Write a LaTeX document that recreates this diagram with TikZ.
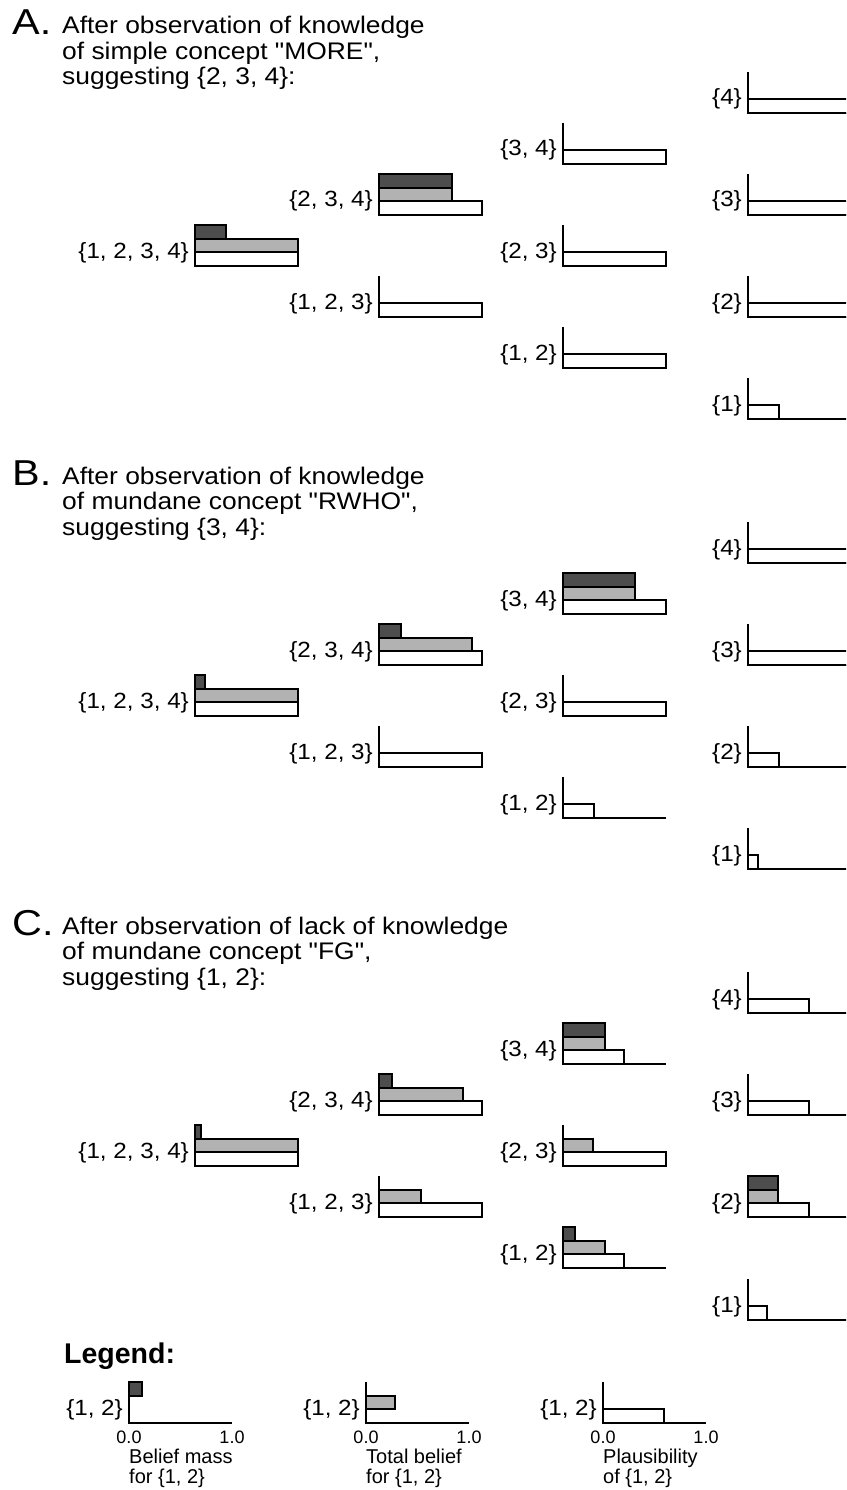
\documentclass[tikz,border=0pt]{standalone}
\usepackage{fontspec}
\setmainfont{Liberation Sans}
\newfontfamily\titlefont[FakeStretch=1.1]{Liberation Sans}
\newfontfamily\letterfont[FakeStretch=1.15]{Liberation Sans}
\newfontfamily\labelfont[FakeStretch=1.1]{Liberation Sans}
\definecolor{massgray}{RGB}{77,77,77}
\definecolor{beliefgray}{RGB}{178,178,178}

% #1 name, #2 x of axis, #3 y of baseline, #4 set, #5 mass, #6 belief, #7 plausibility
\newcommand{\belchart}[7]{%
  \draw[chartaxis] (#2,#3-41) -- (#2,#3) -- (#2+103,#3);
  \ifdim #7pt>0pt \draw[chartbar,fill=white] (#2,#3) rectangle (#2+#7*103,#3-13.67); \fi
  \ifdim #6pt>0pt \draw[chartbar,fill=beliefgray] (#2,#3-13.67) rectangle (#2+#6*103,#3-27.33); \fi
  \ifdim #5pt>0pt \draw[chartbar,fill=massgray] (#2,#3-27.33) rectangle (#2+#5*103,#3-41); \fi
  \node[setlabel] (#1) at (#2-6,#3-8) {#4};
}

\begin{document}
\begin{tikzpicture}[x=1pt,y=-1pt]
\tikzstyle{chartaxis}=[line width=1.5pt]
\tikzstyle{chartbar}=[draw=black,line width=2pt]
\tikzstyle{setlabel}=[anchor=base east,inner sep=0pt,font=\labelfont\fontsize{22}{24}\selectfont]
\tikzstyle{partletter}=[anchor=base west,inner sep=0pt,font=\letterfont\fontsize{36}{40}\selectfont]
\tikzstyle{parttitle}=[anchor=base west,inner sep=0pt,align=left,font=\titlefont\fontsize{24}{25.5}\selectfont]
\tikzstyle{tick}=[anchor=base,inner sep=0pt,font=\fontsize{18}{20}\selectfont]
\tikzstyle{caption}=[anchor=base west,inner sep=0pt,align=left,font=\fontsize{20}{20}\selectfont]
\useasboundingbox (0,0) rectangle (846,1490);
\clip (0,0) rectangle (846,1490);

% A
\node[partletter] (partA) at (12,35) {A.};
\node[parttitle] (titleA) at (62,85) {After observation of knowledge\\of simple concept "MORE",\\suggesting \{2, 3, 4\}:};
\belchart{a1234}{195}{266}{\{1, 2, 3, 4\}}{0.30}{1}{1}
\belchart{a234}{379}{215}{\{2, 3, 4\}}{0.71}{0.71}{1}
\belchart{a123}{379}{317}{\{1, 2, 3\}}{0}{0}{1}
\belchart{a34}{563}{164}{\{3, 4\}}{0}{0}{1}
\belchart{a23}{563}{266}{\{2, 3\}}{0}{0}{1}
\belchart{a12}{563}{368}{\{1, 2\}}{0}{0}{1}
\belchart{a4}{748}{113}{\{4\}}{0}{0}{1}
\belchart{a3}{748}{215}{\{3\}}{0}{0}{1}
\belchart{a2}{748}{317}{\{2\}}{0}{0}{1}
\belchart{a1}{748}{419}{\{1\}}{0}{0}{0.30}

% B
\node[partletter] (partB) at (12,485) {B.};
\node[parttitle] (titleB) at (62,535) {After observation of knowledge\\of mundane concept "RWHO",\\suggesting \{3, 4\}:};
\belchart{b1234}{195}{716}{\{1, 2, 3, 4\}}{0.10}{1}{1}
\belchart{b234}{379}{665}{\{2, 3, 4\}}{0.21}{0.90}{1}
\belchart{b123}{379}{767}{\{1, 2, 3\}}{0}{0}{1}
\belchart{b34}{563}{614}{\{3, 4\}}{0.70}{0.70}{1}
\belchart{b23}{563}{716}{\{2, 3\}}{0}{0}{1}
\belchart{b12}{563}{818}{\{1, 2\}}{0}{0}{0.30}
\belchart{b4}{748}{563}{\{4\}}{0}{0}{1}
\belchart{b3}{748}{665}{\{3\}}{0}{0}{1}
\belchart{b2}{748}{767}{\{2\}}{0}{0}{0.30}
\belchart{b1}{748}{869}{\{1\}}{0}{0}{0.10}

% C
\node[partletter] (partC) at (12,935) {C.};
\node[parttitle] (titleC) at (62,985) {After observation of lack of knowledge\\of mundane concept "FG",\\suggesting \{1, 2\}:};
\belchart{c1234}{195}{1166}{\{1, 2, 3, 4\}}{0.06}{1}{1}
\belchart{c234}{379}{1115}{\{2, 3, 4\}}{0.13}{0.82}{1}
\belchart{c123}{379}{1217}{\{1, 2, 3\}}{0}{0.41}{1}
\belchart{c34}{563}{1064}{\{3, 4\}}{0.41}{0.41}{0.59}
\belchart{c23}{563}{1166}{\{2, 3\}}{0}{0.29}{1}
\belchart{c12}{563}{1268}{\{1, 2\}}{0.12}{0.41}{0.59}
\belchart{c4}{748}{1013}{\{4\}}{0}{0}{0.59}
\belchart{c3}{748}{1115}{\{3\}}{0}{0}{0.59}
\belchart{c2}{748}{1217}{\{2\}}{0.29}{0.29}{0.59}
\belchart{c1}{748}{1320}{\{1\}}{0}{0}{0.18}

% legend
\node[anchor=base west,inner sep=0pt,font=\bfseries\fontsize{28.5}{30}\selectfont] (legend) at (64,1363) {Legend:};
\belchart{lgmass}{129}{1423}{\{1, 2\}}{0.13}{0}{0}
\belchart{lgbel}{366}{1423}{\{1, 2\}}{0}{0.28}{0}
\belchart{lgpl}{603}{1423}{\{1, 2\}}{0}{0}{0.59}
\foreach \x/\name/\cap in {129/mass/{Belief mass\\for \{1, 2\}},366/bel/{Total belief\\for \{1, 2\}},603/pl/{Plausibility\\of \{1, 2\}}}{
  \node[tick] (zero\name) at (\x,1443) {0.0};
  \node[tick] (one\name) at (\x+103,1443) {1.0};
  \node[caption] (cap\name) at (\x,1483) {\cap};
}
\end{tikzpicture}
\end{document}
